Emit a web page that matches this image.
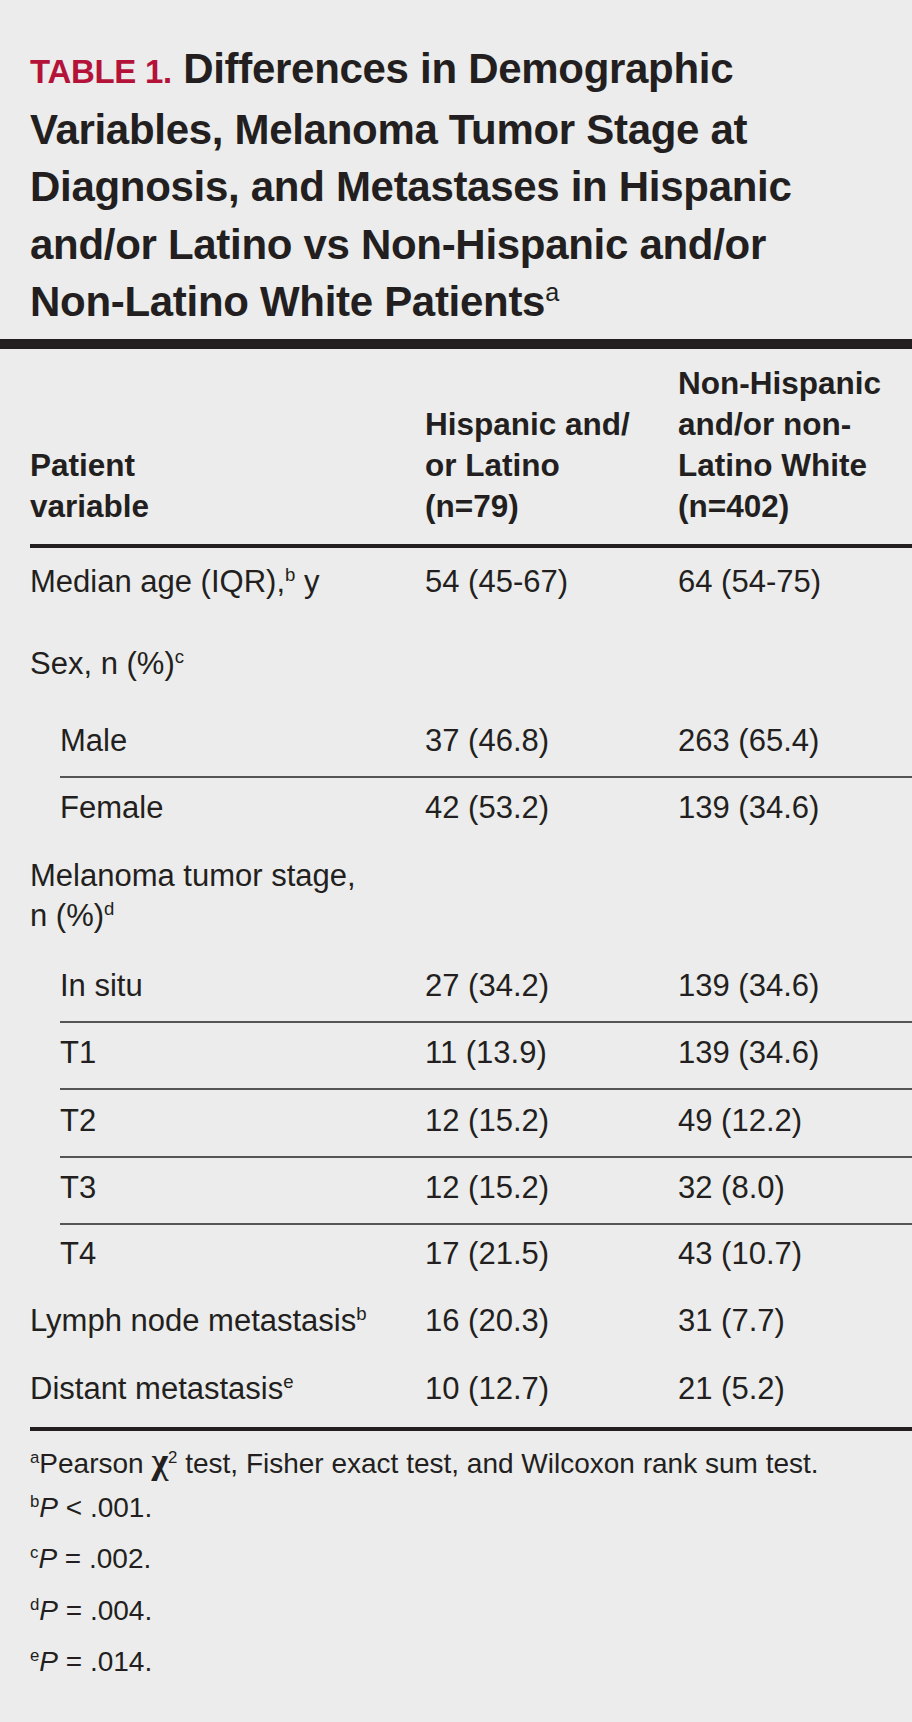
<!DOCTYPE html>
<html><head><meta charset="utf-8">
<script src="https://cdn.jsdelivr.net/npm/chart.js"></script>
<style>
body{margin:0;background:#ebeceb;width:912px;height:1722px;overflow:hidden;font-family:"Liberation Sans",Arial,sans-serif;color:#231f20;position:relative}
.t{position:absolute;white-space:nowrap}
.title{left:30px;top:40px;font-size:42px;line-height:57.5px;font-weight:bold;letter-spacing:-0.3px}
.title b{color:#b5123a;font-size:33px;font-weight:bold}
.rule{position:absolute;left:0;width:912px;background:#231f20}
.hdr{font-size:31.5px;line-height:41px;font-weight:bold}
.cell{font-size:31px;line-height:40px}
.thin{position:absolute;left:60px;width:852px;height:1.5px;background:#555}
.fn{font-size:28px;left:30px}
sup{font-size:60%;line-height:0}
</style></head><body>
<div class="t title"><b>TABLE 1.</b> Differences in Demographic<br>Variables, Melanoma Tumor Stage at<br>Diagnosis, and Metastases in Hispanic<br>and/or Latino vs Non-Hispanic and/or<br>Non-Latino White Patients<sup style="font-weight:normal">a</sup></div>
<div class="rule" style="top:339px;height:10px"></div>
<div id="tbl"></div>
<script>
const colX=[30,425,678];
const headers=["Patient<br>variable","Hispanic and/<br>or Latino<br>(n=79)","Non-Hispanic<br>and/or non-<br>Latino White<br>(n=402)"];
const headerLines=[2,3,4];
const rowLabels=["Median age (IQR),<sup>b</sup> y","Sex, n (%)<sup>c</sup>","Male","Female","Melanoma tumor stage,<br>n (%)<sup>d</sup>","In situ","T1","T2","T3","T4","Lymph node metastasis<sup>b</sup>","Distant metastasis<sup>e</sup>"];
const rowIndent=[0,0,1,1,0,1,1,1,1,1,0,0];
const hispanic=["54 (45-67)","","37 (46.8)","42 (53.2)","","27 (34.2)","11 (13.9)","12 (15.2)","12 (15.2)","17 (21.5)","16 (20.3)","10 (12.7)"];
const nonHispanic=["64 (54-75)","","263 (65.4)","139 (34.6)","","139 (34.6)","139 (34.6)","49 (12.2)","32 (8.0)","43 (10.7)","31 (7.7)","21 (5.2)"];
const rowTop=[562,644,721,788,856,966,1033,1101,1168,1234,1301,1369];
const sepAfter=[2,5,6,7,8];
const footnotes=["<sup>a</sup>Pearson <b style='font-family:serif;font-size:36px'>&chi;</b><sup>2</sup> test, Fisher exact test, and Wilcoxon rank sum test.","<sup>b</sup><i>P</i> &lt; .001.","<sup>c</sup><i>P</i> = .002.","<sup>d</sup><i>P</i> = .004.","<sup>e</sup><i>P</i> = .014."];
let h="";
headers.forEach((t,i)=>{h+=`<div class="t hdr" style="left:${colX[i]}px;top:${527-headerLines[i]*41}px">${t}</div>`;});
h+=`<div class="rule" style="left:30px;width:882px;top:544px;height:4px"></div>`;
rowLabels.forEach((l,i)=>{
 h+=`<div class="t cell" style="left:${colX[0]+rowIndent[i]*30}px;top:${rowTop[i]}px">${l}</div>`;
 h+=`<div class="t cell" style="left:${colX[1]}px;top:${rowTop[i]}px">${hispanic[i]}</div>`;
 h+=`<div class="t cell" style="left:${colX[2]}px;top:${rowTop[i]}px">${nonHispanic[i]}</div>`;
});
sepAfter.forEach(i=>{h+=`<div class="thin" style="top:${rowTop[i]+55}px"></div>`;});
h+=`<div class="rule" style="left:30px;width:882px;top:1427px;height:4px"></div>`;
footnotes.forEach((f,i)=>{h+=`<div class="t fn" style="top:${1440+i*51.5}px">${f}</div>`;});
document.getElementById('tbl').innerHTML=h;
</script>
</body></html>
